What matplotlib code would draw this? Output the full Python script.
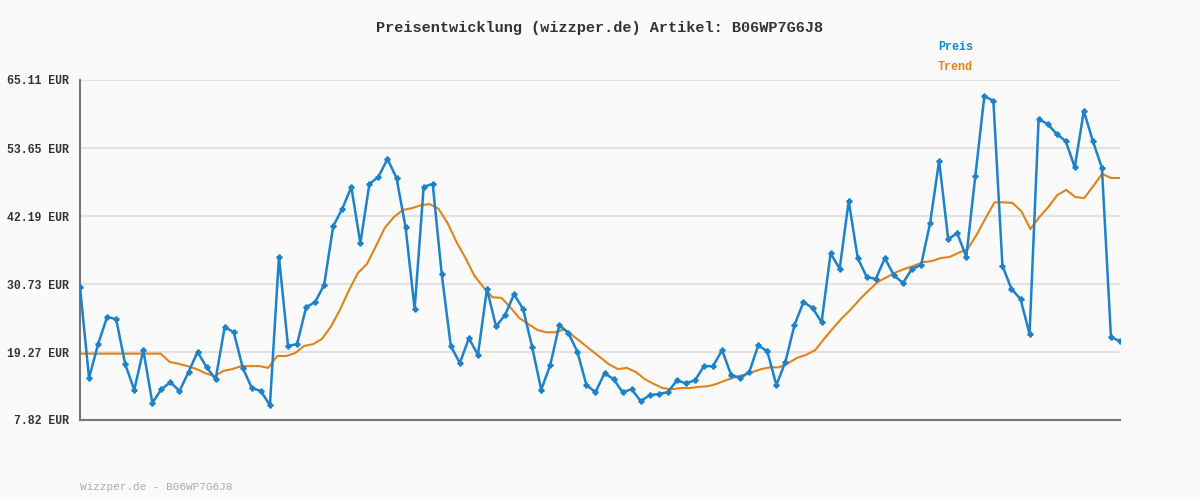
import numpy as np
import matplotlib
matplotlib.use("Agg")
import matplotlib.pyplot as plt

preis = [30.2,14.9,20.6,25.2,24.8,17.2,12.9,19.6,10.7,13.0,
         14.2,12.7,15.9,19.3,16.7,14.7,23.5,22.6,16.6,13.2,
         12.7,10.3,35.3,20.3,20.6,26.8,27.7,30.6,40.5,43.4,
         47.1,37.6,47.6,48.8,51.8,48.6,40.3,26.5,47.1,47.6,
         32.4,20.3,17.4,21.6,18.8,29.9,23.6,25.5,29.0,26.5,
         20.1,12.9,17.1,23.8,22.5,19.3,13.7,12.5,15.7,14.7,
         12.5,13.0,11.0,12.0,12.2,12.5,14.5,14.0,14.5,16.9,
         16.9,19.6,15.4,14.9,15.9,20.4,19.4,13.7,17.6,23.8,
         27.7,26.7,24.3,35.9,33.3,44.7,35.1,31.9,31.6,35.1,
         32.2,30.9,33.3,33.9,41.0,51.5,38.3,39.3,35.3,48.9,
         62.4,61.6,33.8,29.9,28.2,22.3,58.5,57.7,56.0,54.8,
         50.4,59.9,54.8,50.3,21.8,21.1]
trend = [19.0]*10 + [17.6,17.3,16.9,16.4,15.7,15.2,16.1,16.4,16.9,16.9,
         16.9,16.6,18.6,18.6,19.1,20.3,20.6,21.5,23.6,26.4,
         29.7,32.6,34.1,37.1,40.2,42.0,43.2,43.5,44.0,44.2,
         43.4,41.0,37.8,35.1,32.1,30.2,28.5,28.4,26.8,25.0,
         24.0,23.0,22.6,22.6,23.1,22.0,20.8,19.6,18.4,17.2,
         16.4,16.6,15.9,14.7,13.9,13.2,13.0,13.2,13.2,13.4,
         13.5,13.9,14.5,15.0,15.4,15.9,16.4,16.7,16.7,17.4,
         18.3,18.8,19.6,21.5,23.3,25.0,26.5,28.2,29.7,31.1,
         31.9,32.7,33.3,33.8,34.4,34.6,35.1,35.3,36.0,36.6,
         39.0,41.8,44.5,44.5,44.4,43.0,40.0,42.0,43.7,45.7,
         46.6,45.4,45.2,47.2,49.3,48.6,48.6]
yticks = [7.82,19.27,30.73,42.19,53.65,65.11]

fig = plt.figure(figsize=(12,5), dpi=100, facecolor="#fafafa")
ax = fig.add_axes([80/1200, 80/500, 1040/1200, 340/500], facecolor="#fafafa")
mono = "Liberation Mono"
xp = np.linspace(0, 1, len(preis))
xt = np.linspace(0, 1, len(trend))
ax.plot(xt, trend, color="#e2821a", lw=1.5, zorder=2)
ax.plot(xp, preis, color="#1c82cc", lw=1.8, marker="P", ms=3.5, zorder=3)
ax.set_xlim(0, 1)
ax.set_ylim(yticks[0], yticks[-1])
ax.set_yticks(yticks)
ax.set_yticklabels([f"{v:.2f} EUR" for v in yticks], fontfamily=mono, fontsize=8.3, weight="bold", color="#333333")
ax.set_xticks([])
ax.tick_params(axis="y", length=0, pad=8)
ax.grid(axis="y", color="#e2e2e2", lw=1.5)
ax.set_axisbelow(True)
for s in ["top","right"]:
    ax.spines[s].set_visible(False)
for s in ["left","bottom"]:
    ax.spines[s].set_color("#777777")
    ax.spines[s].set_linewidth(1.5)
fig.text(0.5, 1-28/500, "Preisentwicklung (wizzper.de) Artikel: B06WP7G6J8", ha="center", va="center",
         fontfamily=mono, fontsize=11, weight="bold", color="#333333")
fig.text(938/1200, 1-47/500, "Preis", fontfamily=mono, fontsize=8.5, weight="bold", color="#1c82cc", va="center")
fig.text(938/1200, 1-67/500, "Trend", fontfamily=mono, fontsize=8.5, weight="bold", color="#e2821a", va="center")
fig.text(80/1200, 1-487/500, "Wizzper.de - B06WP7G6J8", fontfamily=mono, fontsize=8, color="#aaaaaa", va="center")
fig.savefig("out.png", dpi=100, facecolor=fig.get_facecolor())
